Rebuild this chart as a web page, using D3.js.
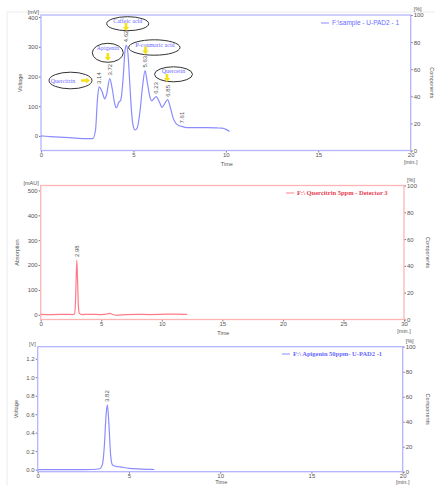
<!DOCTYPE html>
<html>
<head>
<meta charset="utf-8">
<script src="https://cdnjs.cloudflare.com/ajax/libs/d3/7.8.5/d3.min.js"></script>
<style>
  body { margin: 0; background: #fff; }
  svg { display: block; }
  .tick text { fill: #555; font-family: "Liberation Sans", Arial, sans-serif; }
</style>
</head>
<body>
<svg id="chart" width="435" height="485"></svg>
<script>
// ---- data ----
// panel 1: sample chromatogram, time [min] / voltage [mV]
var sampleTime = [0, 0.5, 1, 1.5, 2, 2.5, 2.8, 2.95, 3.05, 3.14, 3.3, 3.45, 3.55, 3.72, 3.85, 4.0, 4.08, 4.2, 4.32,
  4.45, 4.55, 4.62, 4.7, 4.8, 4.9, 5.0, 5.09, 5.2, 5.35, 5.5, 5.63, 5.75, 5.9, 6.0, 6.1, 6.23, 6.4, 6.55, 6.7, 6.85,
  7.0, 7.15, 7.3, 7.45, 7.61, 7.8, 8.0, 8.5, 9.0, 9.5, 9.8, 10.0, 10.2];
var sampleVolt = [0, -2, -4, -6, -8, -9, -9, 20, 120, 165, 150, 125, 140, 193, 160, 105, 95, 112, 122,
  200, 290, 305, 280, 180, 80, 30, 20, 26, 80, 170, 220, 180, 130, 118, 125, 132, 115, 96, 110, 122,
  95, 60, 42, 35, 32, 29, 28, 28, 28, 27, 26, 22, 15];
var samplePeaks = [3.14, 3.72, 4.62, 5.63, 6.23, 6.85, 7.61];
var sampleNames = ["Quercitrin", "Apigenin", "Caffeic acid", "P-coumaric acid", "Quercetin"];

// panel 2: quercitrin standard, time [min] / absorption [mAU]
var quercTime = [0, 1, 2, 2.6, 2.8, 2.88, 2.98, 3.05, 3.12, 3.2, 3.4, 4, 5, 5.5, 5.7, 5.9, 6.2, 7, 8, 9, 10, 11, 12.1];
var quercAbs = [2, 1, 2, 1, 3, 60, 220, 130, 30, 5, 1, 2, 1, 3, 6, 2, -2, 1, 2, 1, 2, 3, 2];
var quercPeaks = [2.98];

// panel 3: apigenin standard, time [min] / voltage [V]
var apiTime = [0, 1, 2, 3, 3.4, 3.55, 3.65, 3.75, 3.82, 3.9, 4.0, 4.1, 4.3, 4.5, 5, 5.5, 6, 6.39];
var apiVolt = [0, 0, 0, 0.002, 0.01, 0.06, 0.25, 0.6, 0.70, 0.5, 0.15, 0.05, 0.035, 0.03, 0.015, 0.008, 0.004, 0.002];
var apiPeaks = [3.82];

var componentTicks = [0, 20, 40, 60, 80, 100];

var svg = d3.select("#chart");

// faint frame of the pasted screenshot
svg.append("path").attr("d", "M7,485 V12 H435").attr("fill", "none").attr("stroke", "#ececec");

function drawPanel(cfg) {
  var g = svg.append("g");
  var x = d3.scaleLinear().domain([0, cfg.xMax]).range([cfg.left, cfg.right]);
  var y = d3.scaleLinear().domain(cfg.yDomain).range([cfg.bottom, cfg.top]);
  var yr = d3.scaleLinear().domain([0, 100]).range([cfg.bottom, cfg.top]);

  var left = g.append("g").attr("transform", "translate(" + cfg.left + ",0)")
    .call(d3.axisLeft(y).tickValues(cfg.yTicks).tickSize(2).tickPadding(1).tickFormat(cfg.yFormat));
  var right = g.append("g").attr("transform", "translate(" + cfg.right + ",0)")
    .call(d3.axisRight(yr).tickValues(componentTicks).tickSize(2).tickPadding(1));
  var bottom = g.append("g").attr("transform", "translate(0," + cfg.bottom + ")")
    .call(d3.axisBottom(x).tickValues(cfg.xTicks).tickSize(2).tickPadding(0));
  [left, right, bottom].forEach(function(a) {
    a.selectAll("text").style("font-size", "6px");
    a.selectAll("line").attr("stroke", "#777");
    a.select(".domain").remove();
  });
  right.selectAll(".tick text").attr("dy", "0.32em");

  g.append("rect")
    .attr("x", cfg.left).attr("y", cfg.top)
    .attr("width", cfg.right - cfg.left).attr("height", cfg.bottom - cfg.top)
    .attr("fill", "none").attr("stroke", cfg.axisColor).attr("stroke-width", 1.3);

  var line = d3.line()
    .x(function(d) { return x(d[0]); })
    .y(function(d) { return y(d[1]); })
    .curve(d3.curveMonotoneX);
  g.append("path")
    .datum(d3.zip(cfg.time, cfg.values))
    .attr("fill", "none").attr("stroke", cfg.lineColor).attr("stroke-width", 1.2)
    .attr("d", line);

  // retention time labels above the peaks
  var interp = function(t) {
    var i = d3.bisectLeft(cfg.time, t);
    if (cfg.time[i] === t || i === 0) return cfg.values[i];
    var t0 = cfg.time[i - 1], t1 = cfg.time[i];
    return cfg.values[i - 1] + (cfg.values[i] - cfg.values[i - 1]) * (t - t0) / (t1 - t0);
  };
  g.selectAll(".peak").data(cfg.peaks).enter().append("text")
    .attr("transform", function(d) {
      return "translate(" + (x(d) + 2) + "," + (y(interp(d)) - 3) + ") rotate(-90)";
    })
    .attr("font-family", "Liberation Sans Narrow, Liberation Sans, sans-serif")
    .attr("font-size", "6px").attr("fill", "#555")
    .text(function(d) { return d.toFixed(2); });

  var txt = function(xp, yp, s, anchor, rot) {
    return g.append("text")
      .attr("transform", "translate(" + xp + "," + yp + ")" + (rot ? " rotate(" + rot + ")" : ""))
      .attr("text-anchor", anchor || "middle")
      .attr("font-family", "Liberation Sans, Arial, sans-serif")
      .attr("font-size", "5.5px").attr("fill", "#555")
      .text(s);
  };
  txt(cfg.left - 2, cfg.top - 1, cfg.unit, "end");
  txt(cfg.right + 3, cfg.top - 4, "[%]", "start");
  txt(cfg.yTitleX, (cfg.top + cfg.bottom) / 2, cfg.yTitle, "middle", -90);
  txt(cfg.right2X, (cfg.top + cfg.bottom) / 2, "Components", "middle", 90);
  txt((cfg.left + cfg.right) / 2 + 1, cfg.bottom + cfg.timeDy, "Time");
  txt(cfg.right, cfg.bottom + cfg.minDy, "[min.]");

  // legend
  g.append("line")
    .attr("x1", cfg.legendX - 11).attr("x2", cfg.legendX - 3)
    .attr("y1", cfg.legendY - 2).attr("y2", cfg.legendY - 2)
    .attr("stroke", cfg.lineColor).attr("stroke-width", 1);
  g.append("text")
    .attr("x", cfg.legendX).attr("y", cfg.legendY)
    .attr("font-family", cfg.legendFont).attr("font-size", "6.5px")
    .attr("font-weight", cfg.legendWeight).attr("fill", cfg.legendColor)
    .text(cfg.legend);

  return { g: g, x: x, y: y };
}

var p1 = drawPanel({
  left: 41, right: 410.7, top: 15, bottom: 150.5,
  xMax: 20, yDomain: [-49, 407], xTicks: [0, 5, 10, 15, 20], yTicks: [0, 100, 200, 300, 400],
  yFormat: d3.format("d"), time: sampleTime, values: sampleVolt, peaks: samplePeaks,
  axisColor: "#b4b4ff", lineColor: "#8c8cff", unit: "[mV]", yTitle: "Voltage", yTitleX: 22, right2X: 430,
  timeDy: 15, minDy: 13,
  legend: "F:\\sample - U-PAD2 - 1", legendX: 332, legendY: 25, legendColor: "#6a6aff", legendWeight: "normal",
  legendFont: "Liberation Sans, Arial, sans-serif"
});

drawPanel({
  left: 40.7, right: 404, top: 185.5, bottom: 319.5,
  xMax: 30, yDomain: [-19, 520], xTicks: [0, 5, 10, 15, 20, 25, 30], yTicks: [0, 100, 200, 300, 400, 500],
  yFormat: d3.format("d"), time: quercTime, values: quercAbs, peaks: quercPeaks,
  axisColor: "#ffb4b4", lineColor: "#ff7a88", unit: "[mAU]", yTitle: "Absorption", yTitleX: 19, right2X: 426,
  timeDy: 15, minDy: 13,
  legend: "F:\\ Quercitrin 5ppm - Detector 3", legendX: 297, legendY: 195, legendColor: "#e8404f", legendWeight: "bold",
  legendFont: "Liberation Serif, Times New Roman, serif"
});

drawPanel({
  left: 37.7, right: 402.7, top: 346.7, bottom: 471.7,
  xMax: 20, yDomain: [-0.022, 1.33], xTicks: [0, 5, 10, 15, 20], yTicks: [0, 0.2, 0.4, 0.6, 0.8, 1.0, 1.2],
  yFormat: d3.format(".1f"), time: apiTime, values: apiVolt, peaks: apiPeaks,
  axisColor: "#b4b4ff", lineColor: "#8c8cff", unit: "[V]", yTitle: "Voltage", yTitleX: 18, right2X: 426,
  timeDy: 12.6, minDy: 12.6,
  legend: "F:\\ Apigenin 50ppm- U-PAD2 -1", legendX: 293, legendY: 356, legendColor: "#6a6aff", legendWeight: "bold",
  legendFont: "Liberation Serif, Times New Roman, serif"
});

// compound annotations on the sample run: ellipse, name, yellow arrow
var annot = p1.g.append("g");
var ellipses = [
  { cx: 70.5, cy: 80.5, rx: 21.5, ry: 8.3, tx: 63, ty: 82.5, ax: 86, ay: 80.5, dir: "right" },
  { cx: 107.8, cy: 52.8, rx: 15.5, ry: 9.5, tx: 107.8, ty: 50, ax: 107.8, ay: 57, dir: "down" },
  { cx: 127.7, cy: 23.7, rx: 21, ry: 7, tx: 127.7, ty: 23, ax: 126, ay: 27, dir: "down" },
  { cx: 154.3, cy: 47.5, rx: 25.7, ry: 7.7, tx: 155, ty: 46.5, ax: 145.5, ay: 50.5, dir: "down" },
  { cx: 173.5, cy: 74.3, rx: 19, ry: 7.5, tx: 173.5, ty: 73, ax: 167, ay: 78, dir: "down" }
];
ellipses.forEach(function(e, i) {
  annot.append("ellipse")
    .attr("cx", e.cx).attr("cy", e.cy).attr("rx", e.rx).attr("ry", e.ry)
    .attr("fill", "none").attr("stroke", "#333").attr("stroke-width", 1);
  annot.append("text")
    .attr("x", e.tx).attr("y", e.ty).attr("text-anchor", "middle")
    .attr("font-family", "Liberation Serif, Times New Roman, serif")
    .attr("font-size", "6px").attr("fill", "#6a6aff")
    .text(sampleNames[i]);
  var pts = e.dir === "right"
    ? [[-5, -1.2], [0, -1.2], [0, -3], [4, 0], [0, 3], [0, 1.2], [-5, 1.2]]
    : [[-1.3, -4], [1.3, -4], [1.3, 0], [3.2, 0], [0, 4], [-3.2, 0], [-1.3, 0]];
  annot.append("polygon")
    .attr("points", pts.map(function(p) { return (e.ax + p[0]) + "," + (e.ay + p[1]); }).join(" "))
    .attr("fill", "#f5e11a");
});
</script>
</body>
</html>
